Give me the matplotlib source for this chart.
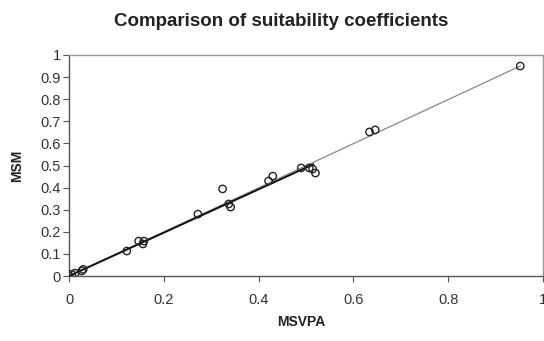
import matplotlib.pyplot as plt
import numpy as np

plt.rcParams['font.family'] = ['Liberation Sans', 'DejaVu Sans']

# suitability coefficients
msvpa = [0.0, 0.006, 0.013, 0.027, 0.03, 0.122, 0.147, 0.158, 0.156,
         0.272, 0.324, 0.337, 0.341, 0.421, 0.43, 0.49, 0.507, 0.514,
         0.52, 0.634, 0.646, 0.952]
msm = [0.0, 0.008, 0.013, 0.023, 0.03, 0.113, 0.158, 0.158, 0.145,
       0.28, 0.394, 0.326, 0.312, 0.43, 0.452, 0.489, 0.489, 0.484,
       0.466, 0.652, 0.661, 0.95]

# trend lines
fit_x = [0.0, 0.515]
fit_y = [0.0, 0.505]
ref_x = [0.0, 0.952]
ref_y = [0.0, 0.95]

x_ticks = [0, 0.2, 0.4, 0.6, 0.8, 1]
x_ticklabels = ['0', '0.2', '0.4', '0.6', '0.8', '1']
y_ticks = np.round(np.arange(0, 1.01, 0.1), 1)
y_ticklabels = ['0'] + ['%.1f' % v for v in y_ticks[1:-1]] + ['1']

fig = plt.figure(figsize=(5.44, 3.41), dpi=100)
ax = fig.add_axes([69 / 544, 65 / 341, 474 / 544, 221 / 341])

ax.plot(ref_x, ref_y, color='#888888', lw=0.9, zorder=2)
ax.plot(fit_x, fit_y, color='#111111', lw=1.4, zorder=3)
ax.scatter(msvpa, msm, s=28, facecolors='none', edgecolors='#222222',
           linewidths=1.0, zorder=4)

ax.set_xlim(0, 1)
ax.set_ylim(0, 1)
ax.set_xticks(x_ticks)
ax.set_xticklabels(x_ticklabels)
ax.set_yticks(y_ticks)
ax.set_yticklabels(y_ticklabels)
ax.tick_params(direction='out', length=4, width=0.8, colors='#555555',
               labelcolor='#333333', labelsize=10.5, pad=2)
ax.tick_params(axis='x', pad=8)

for side in ['left', 'bottom']:
    ax.spines[side].set_color('#555555')
    ax.spines[side].set_linewidth(1.0)
for side in ['top', 'right']:
    ax.spines[side].set_color('#999999')
    ax.spines[side].set_linewidth(1.0)

ax.set_ylabel('MSM', fontsize=10, fontweight='bold', color='#222222',
              labelpad=12)
fig.text(301 / 544, 1 - 322 / 341, 'MSVPA', ha='center', va='center',
         fontsize=10, fontweight='bold', color='#222222')
fig.text(281 / 544, 1 - 21 / 341, 'Comparison of suitability coefficients',
         ha='center', va='center', fontsize=13.5, fontweight='bold',
         color='#222222')

fig.savefig('out.png', dpi=100)
